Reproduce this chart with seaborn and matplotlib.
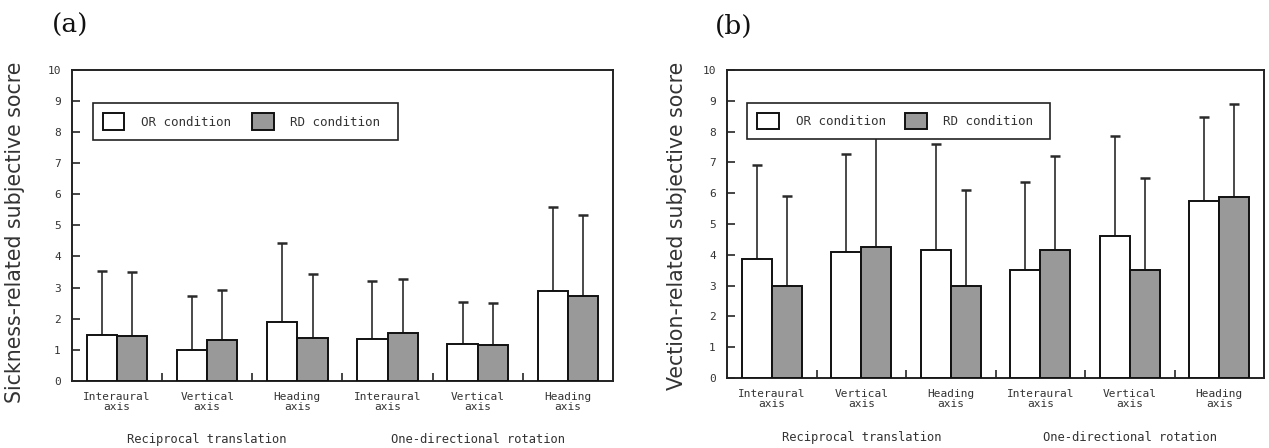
import numpy as np
import pandas as pd
import matplotlib
matplotlib.use("Agg")
import matplotlib.pyplot as plt
import seaborn as sns

# ---------------- data ----------------
category_keys = ["T-Interaural", "T-Vertical", "T-Heading",
                 "R-Interaural", "R-Vertical", "R-Heading"]
category_labels = ["Interaural\naxis", "Vertical\naxis", "Heading\naxis",
                   "Interaural\naxis", "Vertical\naxis", "Heading\naxis"]
motion_groups = ["Reciprocal translation", "One-directional rotation"]
conditions = ["OR condition", "RD condition"]

sick_or_mean = [1.47, 0.99, 1.90, 1.33, 1.19, 2.89]
sick_or_sd = [2.06, 1.75, 2.54, 1.88, 1.35, 2.70]
sick_rd_mean = [1.43, 1.31, 1.37, 1.53, 1.14, 2.73]
sick_rd_sd = [2.06, 1.61, 2.08, 1.74, 1.35, 2.60]

vect_or_mean = [3.85, 4.10, 4.15, 3.52, 4.60, 5.74]
vect_or_sd = [3.08, 3.16, 3.43, 2.85, 3.26, 2.74]
vect_rd_mean = [2.99, 4.24, 2.99, 4.17, 3.52, 5.89]
vect_rd_sd = [2.93, 4.06, 3.12, 3.05, 2.98, 3.00]

ylabels = ["Sickness-related subjective socre", "Vection-related subjective socre"]
panel_tags = ["(a)", "(b)"]

# ---------------- style ----------------
sns.set_style("white")
plt.rcParams["font.family"] = ["DejaVu Sans"]
MONO = "DejaVu Sans Mono"

fig = plt.figure(figsize=(12.69, 4.48), dpi=100)
ax_a = fig.add_axes([0.0567, 0.150, 0.4263, 0.694])
ax_b = fig.add_axes([0.5729, 0.156, 0.4232, 0.688])

palette = {"OR condition": "#ffffff", "RD condition": "#999999"}
text_col = "#333333"


def draw(ax, or_mean, or_sd, rd_mean, rd_sd, ylabel, tag, tag_x, ylab_xy):
    df = pd.DataFrame({
        "category": category_keys * 2,
        "condition": [conditions[0]] * 6 + [conditions[1]] * 6,
        "score": list(or_mean) + list(rd_mean),
    })
    sds = [list(or_sd), list(rd_sd)]
    sns.barplot(data=df, x="category", y="score", hue="condition",
                order=category_keys, hue_order=conditions, palette=palette,
                width=0.672, gap=0, edgecolor="#111111", linewidth=1.4,
                errorbar=None, legend=True, ax=ax, zorder=3)
    for cont, sd in zip(ax.containers, sds):
        xs = [b.get_x() + b.get_width() / 2 for b in cont.patches]
        hs = [b.get_height() for b in cont.patches]
        ax.errorbar(xs, hs, yerr=[np.zeros(len(sd)), sd], fmt="none",
                    ecolor="#2a2a2a", elinewidth=1.2, capsize=3.5,
                    capthick=1.8, zorder=2)
    ax.set_ylim(0, 10)
    ax.set_xlim(-0.5, 5.5)
    ax.set_yticks(range(0, 11))
    ax.set_yticklabels([str(v) for v in range(0, 11)], family=MONO,
                       fontsize=8, color=text_col)
    ax.tick_params(axis="y", direction="in", length=6, width=1.2,
                   pad=8, left=True)
    ax.set_xticks(range(6))
    ax.set_xticklabels(category_labels, fontsize=8, family=MONO,
                       color=text_col, linespacing=1.0)
    ax.tick_params(axis="x", length=0, pad=8)
    ax.set_xticks([0.5, 1.5, 2.5, 3.5, 4.5], minor=True)
    ax.tick_params(axis="x", which="minor", direction="in", length=6,
                   width=1.2, bottom=True)
    ax.set_xlabel("")
    ax.set_ylabel(ylabel, fontsize=14.8, color=text_col)
    ax.yaxis.set_label_coords(*ylab_xy)
    for s in ax.spines.values():
        s.set_visible(True)
        s.set_color("#222222")
        s.set_linewidth(1.4)
    # group labels
    for gx, gname in zip([1, 4], motion_groups):
        ax.annotate(gname, xy=(gx, 0), xycoords=("data", "axes fraction"),
                    xytext=(0, -42.5), textcoords="offset points",
                    ha="center", va="center", fontsize=8.7, family=MONO,
                    color=text_col)
    handles, labels = ax.get_legend_handles_labels()
    labels = [l + " " for l in labels]
    leg = ax.legend(handles, labels, loc="lower left",
                    bbox_to_anchor=(0.038, 0.776, 0.564, 0.127),
                    mode="expand", ncol=2,
                    prop={"family": MONO, "size": 9},
                    handlelength=1.75, handleheight=1.6, borderpad=0.8,
                    handletextpad=1.3, frameon=True, fancybox=False,
                    framealpha=1, edgecolor="#222222", borderaxespad=0)
    leg.get_frame().set_linewidth(1.2)
    leg.set_zorder(10)
    for t in leg.get_texts():
        t.set_color(text_col)
    ax.text(tag_x, 1.142, tag, transform=ax.transAxes, fontsize=19,
            family="DejaVu Serif", ha="left", va="center", color="#111111")


draw(ax_a, sick_or_mean, sick_or_sd, sick_rd_mean, sick_rd_sd,
     ylabels[0], panel_tags[0], -0.037, (-0.087, 0.479))
draw(ax_b, vect_or_mean, vect_or_sd, vect_rd_mean, vect_rd_sd,
     ylabels[1], panel_tags[1], -0.022, (-0.0745, 0.494))

fig.savefig("out.png", dpi=100)
